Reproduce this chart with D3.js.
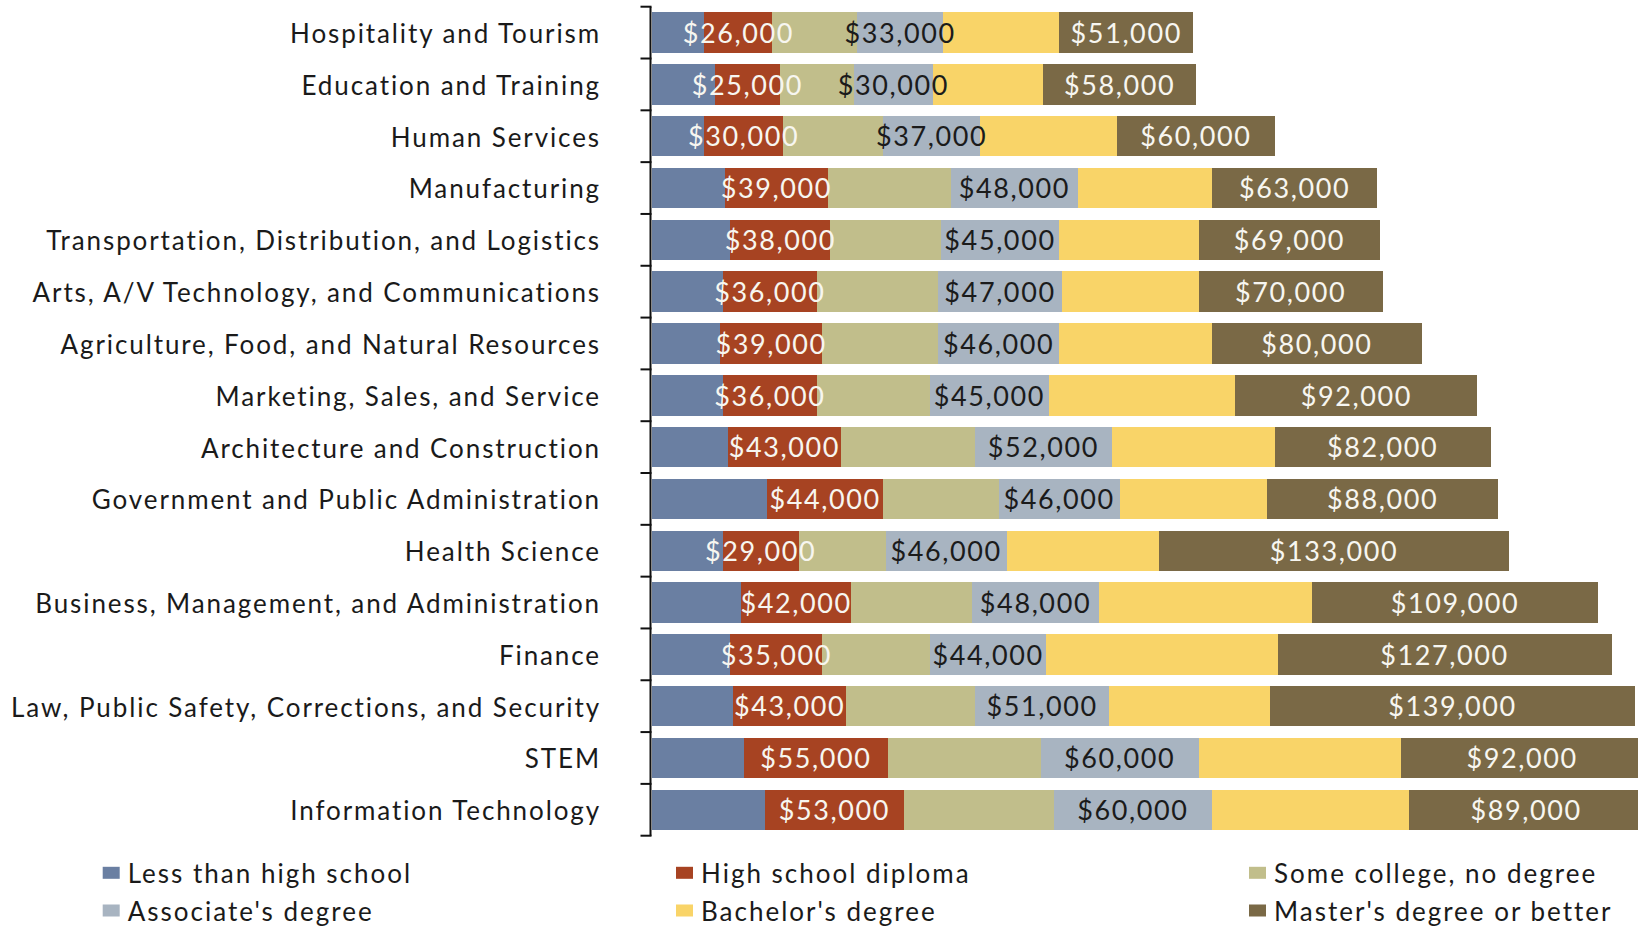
<!DOCTYPE html>
<html>
<head>
<meta charset="utf-8">
<script src="https://cdn.jsdelivr.net/npm/d3@7"></script>
<style>
  html, body { margin: 0; padding: 0; background: #ffffff; }
  svg { display: block; }
  text { font-family: Lato, "Open Sans", sans-serif; }
</style>
</head>
<body>
<div id="chart"></div>
<script>
// ---------- data (median earnings, US$) ----------
const categories = [
  "Hospitality and Tourism",
  "Education and Training",
  "Human Services",
  "Manufacturing",
  "Transportation, Distribution, and Logistics",
  "Arts, A/V Technology, and Communications",
  "Agriculture, Food, and Natural Resources",
  "Marketing, Sales, and Service",
  "Architecture and Construction",
  "Government and Public Administration",
  "Health Science",
  "Business, Management, and Administration",
  "Finance",
  "Law, Public Safety, Corrections, and Security",
  "STEM",
  "Information Technology"
];
const lessThanHighSchool = [20000, 24000, 20000, 28000, 30000, 27000, 26000, 27000, 29000, 44000, 27000, 34000, 30000, 31000, 35000, 43000];
const highSchoolDiploma  = [26000, 25000, 30000, 39000, 38000, 36000, 39000, 36000, 43000, 44000, 29000, 42000, 35000, 43000, 55000, 53000];
const someCollege        = [32000, 28000, 38000, 47000, 42000, 46000, 44000, 43000, 51000, 44000, 33000, 46000, 41000, 49000, 58000, 57000];
const associateDegree    = [33000, 30000, 37000, 48000, 45000, 47000, 46000, 45000, 52000, 46000, 46000, 48000, 44000, 51000, 60000, 60000];
const bachelorDegree     = [44000, 42000, 52000, 51000, 53000, 52000, 58000, 71000, 62000, 56000, 58000, 81000, 88000, 61000, 77000, 75000];
const masterOrBetter     = [51000, 58000, 60000, 63000, 69000, 70000, 80000, 92000, 82000, 88000, 133000, 109000, 127000, 139000, 92000, 89000];

const seriesNames = [
  "Less than high school",
  "High school diploma",
  "Some college, no degree",
  "Associate's degree",
  "Bachelor's degree",
  "Master's degree or better"
];
const seriesKeys = ["lessHS", "hs", "some", "assoc", "bach", "master"];
const seriesColors = ["#6A7FA2", "#A74322", "#C1BE8B", "#A8B4C1", "#F9D468", "#7A6946"];
// which series carry value labels, and their text colour
const labelledSeries = { hs: "#F7F6F0", assoc: "#1B1B1B", master: "#F7F6F0" };

// ---------- build table ----------
const rows = categories.map((c, i) => ({
  category: c,
  lessHS: lessThanHighSchool[i],
  hs: highSchoolDiploma[i],
  some: someCollege[i],
  assoc: associateDegree[i],
  bach: bachelorDegree[i],
  master: masterOrBetter[i]
}));

const W = 1638, H = 927;
const svg = d3.select("#chart").append("svg")
  .attr("width", W).attr("height", H)
  .attr("viewBox", `0 0 ${W} ${H}`);

const x = d3.scaleLinear().domain([0, 380000]).range([651.5, 1651]);
const y = d3.scaleBand().domain(categories).range([6.7, 835.7])
  .paddingInner(0.22).paddingOuter(0.11);

const stack = d3.stack().keys(seriesKeys);
const stacked = stack(rows);
const color = d3.scaleOrdinal().domain(seriesKeys).range(seriesColors);

// bars
const layers = svg.append("g").attr("class", "bars")
  .selectAll("g").data(stacked).join("g")
  .attr("fill", d => color(d.key));

layers.selectAll("rect").data(d => d).join("rect")
  .attr("x", d => x(d[0]))
  .attr("y", d => y(d.data.category))
  .attr("width", d => x(d[1]) - x(d[0]))
  .attr("height", y.bandwidth())
  .attr("shape-rendering", "crispEdges");

// value labels (drawn after all bars so they sit on top)
const fmt = d3.format("$,");
const labelG = svg.append("g").attr("class", "labels");
stacked.filter(s => labelledSeries[s.key]).forEach(s => {
  labelG.selectAll(null).data(s).join("text")
    .attr("x", d => (x(d[0]) + x(d[1])) / 2)
    .attr("y", d => y(d.data.category) + y.bandwidth() / 2)
    .attr("dy", "0.38em")
    .attr("text-anchor", "middle")
    .attr("font-size", 27)
    .attr("letter-spacing", "1.6px")
    .attr("fill", labelledSeries[s.key])
    .text(d => fmt(d[1] - d[0]));
});

// category axis
const step = y.step();
const axisX = 650.5;
const axisG = svg.append("g").attr("class", "axis");
const tickYs = categories.map(c => y(c) + y.bandwidth() / 2 - step / 2);
tickYs.push(y(categories[categories.length - 1]) + y.bandwidth() / 2 + step / 2);

axisG.append("line")
  .attr("x1", axisX).attr("x2", axisX)
  .attr("y1", tickYs[0]).attr("y2", tickYs[tickYs.length - 1])
  .attr("stroke", "#111").attr("stroke-width", 2);

axisG.selectAll("line.tick").data(tickYs).join("line")
  .attr("class", "tick")
  .attr("x1", axisX - 10).attr("x2", axisX + 1)
  .attr("y1", d => d).attr("y2", d => d)
  .attr("stroke", "#111").attr("stroke-width", 2);

axisG.selectAll("text").data(categories).join("text")
  .attr("x", 601)
  .attr("y", c => y(c) + y.bandwidth() / 2)
  .attr("dy", "0.4em")
  .attr("text-anchor", "end")
  .attr("font-size", 26)
  .attr("letter-spacing", "1.9px")
  .attr("fill", "#1A1A1A")
  .text(c => c);

// legend
const legendCols = [102.7, 676, 1249];
const legendRows = [883.3, 921];
const legend = svg.append("g").attr("class", "legend")
  .selectAll("g").data(seriesNames).join("g")
  .attr("transform", (d, i) => `translate(${legendCols[i % 3]},${legendRows[Math.floor(i / 3)]})`);

legend.append("rect")
  .attr("x", 0).attr("y", -16.5)
  .attr("width", 17).attr("height", 12)
  .attr("fill", (d, i) => seriesColors[i]);

legend.append("text")
  .attr("x", 25).attr("y", 0)
  .attr("font-size", 26)
  .attr("letter-spacing", "2px")
  .attr("fill", "#1A1A1A")
  .text(d => d);
</script>
</body>
</html>
